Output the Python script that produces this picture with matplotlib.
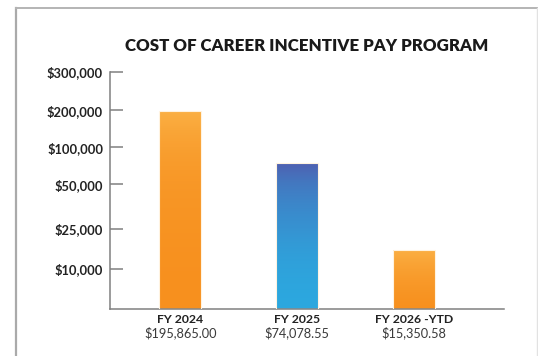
import numpy as np
import matplotlib
matplotlib.use("Agg")
import matplotlib.pyplot as plt
from matplotlib.colors import LinearSegmentedColormap
from matplotlib.lines import Line2D

# Career incentive pay cost by fiscal year
years = ["FY 2024", "FY 2025", "FY 2026 -YTD"]
costs = [195865.00, 74078.55, 15350.58]
tick_values = [10000, 25000, 50000, 100000, 200000, 300000]
tick_labels = ["$10,000", "$25,000", "$50,000", "$100,000", "$200,000", "$300,000"]

# stepped axis: each labelled level gets its own band, log-spaced inside a band
axis_floor = 4000
band_pos = [0, 40.6, 80.6, 125, 162, 199, 237.6]
band_vals = np.log10([axis_floor] + tick_values)

def forward(v):
    v = np.maximum(np.asarray(v, dtype=float), 1.0)
    return np.interp(np.log10(v), band_vals, band_pos)

def inverse(p):
    return 10 ** np.interp(p, band_pos, band_vals)

orange = LinearSegmentedColormap.from_list("orange", ["#f7901e", "#fbb044"])
blue = LinearSegmentedColormap.from_list("blue", ["#2ca8df", "#4f5fb0"])
bar_maps = [orange, blue, orange]

plt.rcParams["font.family"] = ["Lato", "DejaVu Sans"]

fig = plt.figure(figsize=(5.38, 3.56), dpi=100)
ax = fig.add_axes([110 / 538, 46.7 / 356, 394 / 538, 237.6 / 356])
ax.set_yscale("function", functions=(forward, inverse))

x = np.arange(len(years))
bars = ax.bar(x, np.array(costs) - axis_floor, bottom=axis_floor, width=0.36,
              color="none", edgecolor="#fff3e0", linewidth=0.8, zorder=3)

# vertical gradient inside each bar
grad = np.linspace(0, 1, 256).reshape(-1, 1)
for bar, cmap in zip(bars, bar_maps):
    x0 = bar.get_x()
    im = ax.imshow(grad, cmap=cmap, origin="lower", aspect="auto", zorder=2,
                   extent=[x0, x0 + bar.get_width(), axis_floor, bar.get_y() + bar.get_height()])
    im.set_clip_path(bar)

ax.set_xlim(-0.6, 2.77)
ax.set_ylim(axis_floor, 300000)
ax.set_yticks(tick_values)
ax.set_yticklabels(tick_labels)
ax.minorticks_off()
ax.set_xticks([])

for side in ["top", "right"]:
    ax.spines[side].set_visible(False)
for side in ["left", "bottom"]:
    ax.spines[side].set_color("#808080")
    ax.spines[side].set_linewidth(1.1)
ax.tick_params(axis="y", direction="in", length=9.5, width=1.1, color="#808080",
               pad=5, labelsize=9.3, labelcolor="#222222")
for lab in ax.get_yticklabels():
    lab.set_fontweight("bold")

trans = ax.get_xaxis_transform()
for xi, name, cost in zip(x, years, costs):
    ax.text(xi, -0.045, name, transform=trans, ha="center", va="center",
            fontsize=8.8, fontweight="bold", color="#222222")
    ax.text(xi, -0.097, f"${cost:,.2f}", transform=trans, ha="center", va="center",
            fontsize=9.2, color="#3a3a3a")

fig.text(307 / 538, 1 - 46 / 356, "COST OF CAREER INCENTIVE PAY PROGRAM",
         ha="center", va="center", fontsize=12.2, fontweight="heavy", color="#1a1a1a")

# panel frame
fig.add_artist(Line2D([16 / 538, 16 / 538], [0, 1 - 8 / 356], transform=fig.transFigure,
                      color="#aaaaaa", linewidth=1.6))
fig.add_artist(Line2D([16 / 538, 1], [1 - 8 / 356, 1 - 8 / 356], transform=fig.transFigure,
                      color="#b4b4b4", linewidth=1.4))
fig.add_artist(Line2D([536.5 / 538, 536.5 / 538], [0, 1 - 8 / 356], transform=fig.transFigure,
                      color="#e2e2e2", linewidth=1.0))

fig.savefig("out.png", dpi=100)
